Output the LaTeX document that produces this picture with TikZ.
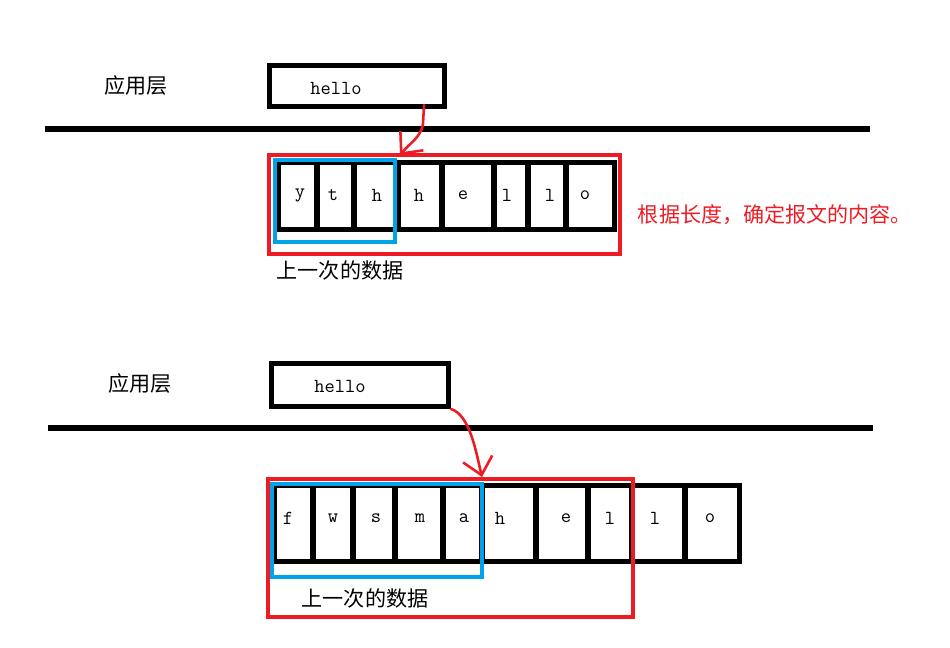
\documentclass[tikz,border=0pt]{standalone}
\usepackage{fontspec}
\usepackage{xcolor}
\newfontfamily\cjk{Noto Sans CJK SC}
\usepackage{tikz}
\usetikzlibrary{arrows.meta}
\definecolor{mkred}{RGB}{237,28,36}
\definecolor{mkblue}{RGB}{0,162,232}

\begin{document}
\begin{tikzpicture}[x=0.03cm, y=-0.03cm,
  txt/.style={font=\fontsize{17}{19}\selectfont\ttfamily, inner sep=0pt},
  lbl/.style={font=\fontsize{18}{20}\selectfont\cjk, inner sep=0pt},
  app/.style={draw, line width=4.3pt, inner sep=0pt},
  sep/.style={line width=4.3pt},
  cellrow/.style={line width=4.3pt},
  frame/.style={draw=mkred, line width=3.4pt, inner sep=0pt},
  old/.style={draw=mkblue, line width=3.4pt},
  hand/.style={mkred, line width=2.2pt, line cap=round, -{Straight Barb[length=5mm, width=9mm]}}]
  \useasboundingbox (0,0) rectangle (950,648);

  \node[lbl] (layer1) at (136,85) {应用层};
  \node[app, minimum width=5.25cm, minimum height=1.23cm] (app1) at (357,86) {};
  \node[txt] (msg1) at (336,88) {hello};
  \draw[sep] (45,129) -- (870,129);

  \draw[cellrow] (278.5,162.5) rectangle (614.5,229.5);
  \foreach \x in {317,354,398,442,494,528,566} {\draw[cellrow] (\x,162.5) -- (\x,229.5);}
  \foreach \x/\c [count=\i] in {300/y,333/t,377/h,419/h,463/e,507/l,550/l,585/o}
    {\node[txt] (a\i) at (\x,195) {\c};}
  \draw[old] (275,160) rectangle (395,242);
  \node[frame, minimum width=10.53cm, minimum height=2.97cm] (frame1) at (444.5,204.5) {};
  \node[lbl] (prev1) at (340,270) {上一次的数据};
  \node[lbl, text=mkred] (note1) at (775,215) {根据长度，确定报文的内容。};
  \coordinate (from1) at (424,105);
  \coordinate (to1) at (400,155);
  \draw[hand] (from1) -- (423,124) .. controls (421,137) and (410,143) .. (to1);

  \node[lbl] (layer2) at (140,383) {应用层};
  \node[app, minimum width=5.31cm, minimum height=1.29cm] (app2) at (360,385) {};
  \node[txt] (msg2) at (340,386) {hello};
  \draw[sep] (48,428) -- (873,428);

  \draw[cellrow] (274.5,485.5) rectangle (739.5,561.5);
  \foreach \x in {313,353,395,443,482,536,588,632,685} {\draw[cellrow] (\x,485.5) -- (\x,561.5);}
  \foreach \x/\c [count=\i] in {288/f,333/w,376/s,420/m,464/a,500/h,566/e,610/l,655/l,710/o}
    {\node[txt] (b\i) at (\x,518) {\c};}
  \draw[old] (272,484) rectangle (482,577);
  \node[frame, minimum width=10.95cm, minimum height=4.14cm] (frame2) at (450.5,548) {};
  \node[lbl] (prev2) at (365,598) {上一次的数据};
  \coordinate (to2) at (482,477);
  \draw[hand] (app2.south east) .. controls (470,415) and (476,452) .. (to2);
\end{tikzpicture}
\end{document}
